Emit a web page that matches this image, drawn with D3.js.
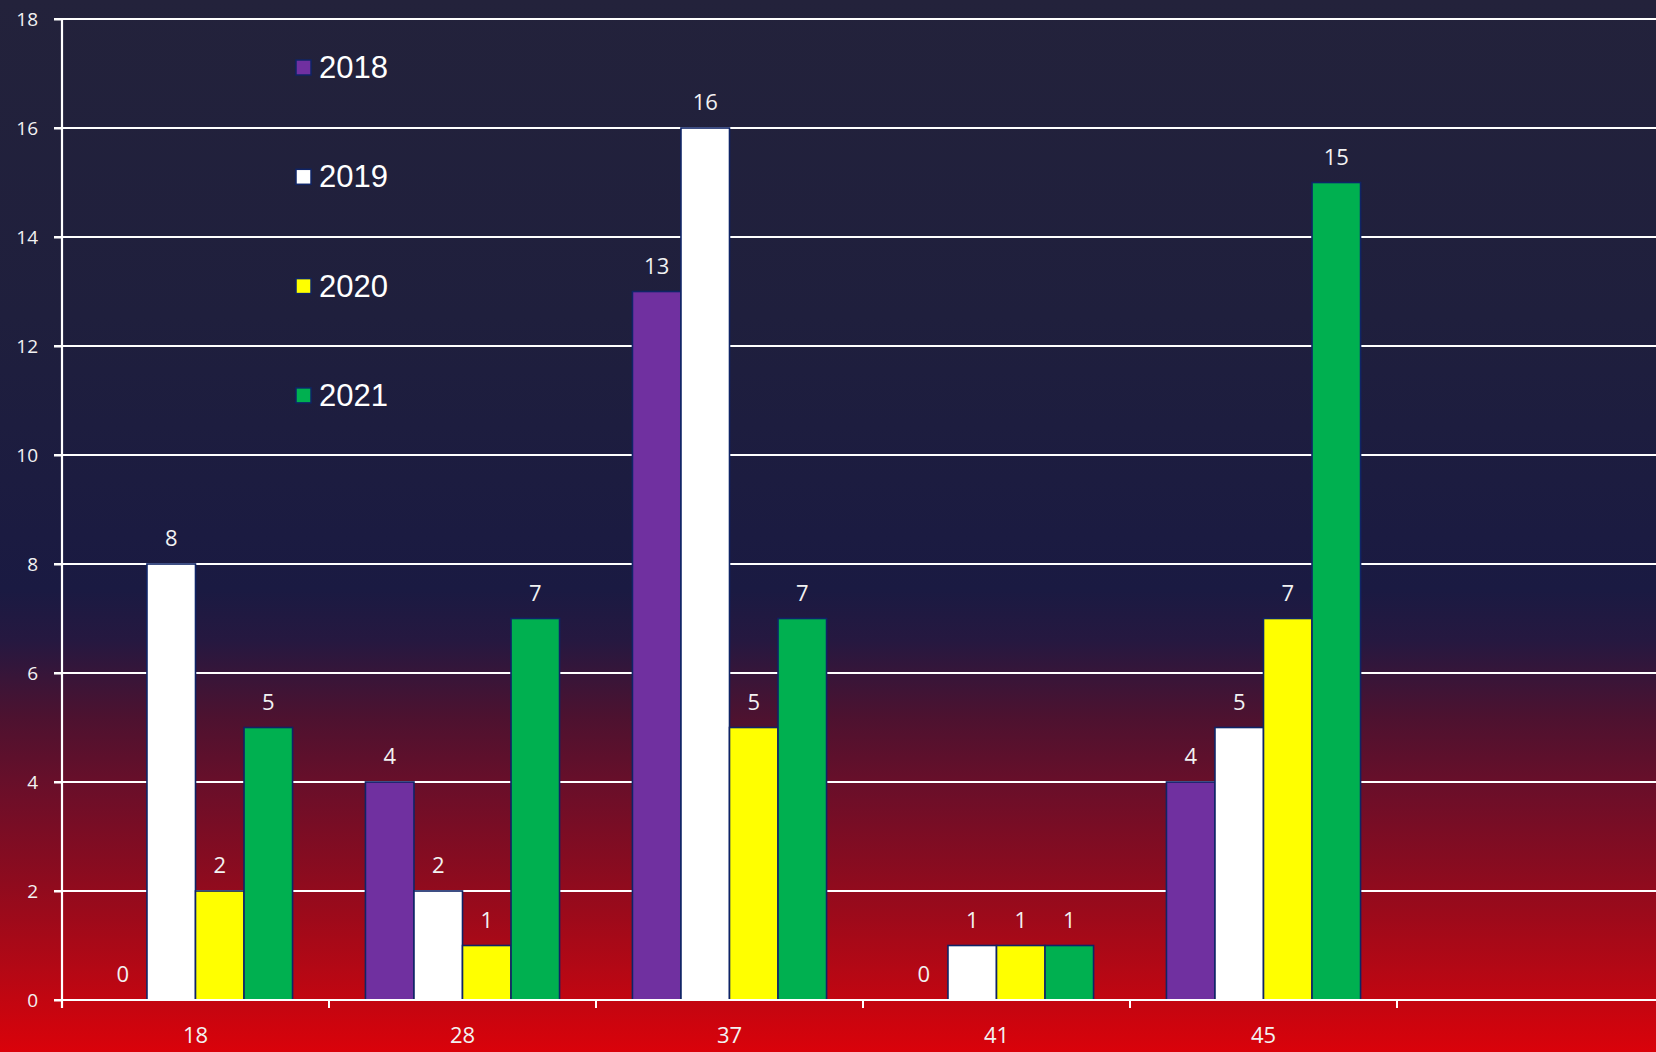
<!DOCTYPE html>
<html>
<head>
<meta charset="utf-8">
<script src="https://cdn.jsdelivr.net/npm/d3@7"></script>
<style>
  html, body { margin:0; padding:0; background:#1c1b40; }
  svg { display:block; }
</style>
</head>
<body>
<svg id="chart" width="1656" height="1052"></svg>
<script>
var categories = ["18", "28", "37", "41", "45"];
var seriesNames = ["2018", "2019", "2020", "2021"];
var values2018 = [0, 4, 13, 0, 4];
var values2019 = [8, 2, 16, 1, 5];
var values2020 = [2, 1, 5, 1, 7];
var values2021 = [5, 7, 7, 1, 15];
var yTicks = [0, 2, 4, 6, 8, 10, 12, 14, 16, 18];
var seriesColors = ["#7030a0", "#ffffff", "#ffff00", "#00b050"];

var allValues = [values2018, values2019, values2020, values2021];
var W = 1656, H = 1052;
var svg = d3.select("#chart");

// background gradient, navy to red
var defs = svg.append("defs");
var grad = defs.append("linearGradient").attr("id","bg").attr("x1",0).attr("y1",0).attr("x2",0).attr("y2",1);
[[0,"#23223b"],[0.3,"#1f1f3d"],[0.56,"#1a1a42"],[0.61,"#261840"],[0.68,"#4c1230"],[0.76,"#6f0e28"],[0.84,"#8f0b1e"],[0.92,"#b30815"],[1,"#da020a"]]
  .forEach(function(s) { grad.append("stop").attr("offset",s[0]).attr("stop-color",s[1]); });
svg.append("rect").attr("width",W).attr("height",H).attr("fill","url(#bg)");

var y = d3.scaleLinear().domain([0, 18]).range([1000, 19]);
var x0 = d3.scaleBand().domain(categories).range([62, 1397]).paddingInner(0.273).paddingOuter(0.1365);
var x1 = d3.scaleBand().domain(seriesNames).range([0, x0.bandwidth()]);

// gridlines
svg.append("g").selectAll("line")
  .data(yTicks.filter(function(d) { return d > 0; }))
  .enter().append("line")
  .attr("x1", 54).attr("x2", W)
  .attr("y1", function(d) { return y(d); }).attr("y2", function(d) { return y(d); })
  .attr("stroke", "#ffffff").attr("stroke-width", 2.2);

// y axis
var yAxis = svg.append("g").attr("transform","translate(62,0)")
  .call(d3.axisLeft(y).tickValues(yTicks).tickSize(8).tickPadding(16));
yAxis.select(".domain").remove();
yAxis.selectAll("line").attr("stroke","#ffffff").attr("stroke-width",2);
yAxis.selectAll("text").attr("fill","#f2f2f2").attr("font-family","'Open Sans', sans-serif").attr("font-size",19);
svg.append("line").attr("x1",62).attr("x2",62).attr("y1",19).attr("y2",1008)
  .attr("stroke","#ffffff").attr("stroke-width",2.2);

// bars
var rows = [];
categories.forEach(function(c, i) {
  seriesNames.forEach(function(s, j) {
    rows.push({cat: c, series: s, value: allValues[j][i], color: seriesColors[j]});
  });
});

var groups = svg.append("g");
groups.selectAll("rect")
  .data(rows.filter(function(d) { return d.value > 0; }))
  .enter().append("rect")
  .attr("x", function(d) { return x0(d.cat) + x1(d.series); })
  .attr("y", function(d) { return y(d.value); })
  .attr("width", x1.bandwidth())
  .attr("height", function(d) { return y(0) - y(d.value); })
  .attr("fill", function(d) { return d.color; })
  .attr("stroke", "#0f2466").attr("stroke-width", 1.6);

// value labels
groups.selectAll("text")
  .data(rows)
  .enter().append("text")
  .attr("x", function(d) { return x0(d.cat) + x1(d.series) + x1.bandwidth()/2; })
  .attr("y", function(d) { return y(d.value) - 18; })
  .attr("text-anchor", "middle")
  .attr("fill", "#f2f2f2")
  .attr("font-family", "'Open Sans', sans-serif")
  .attr("font-size", 22)
  .text(function(d) { return d.value; });

// x axis
svg.append("line").attr("x1",54).attr("x2",W).attr("y1",1000).attr("y2",1000)
  .attr("stroke","#ffffff").attr("stroke-width",2.2);
var bounds = categories.map(function(c) { return x0(c) - x0.step()*x0.paddingInner()/2; });
bounds.push(x0(categories[categories.length-1]) + x0.bandwidth() + x0.step()*x0.paddingInner()/2);
svg.append("g").selectAll("line").data(bounds).enter().append("line")
  .attr("x1", function(d) { return d; }).attr("x2", function(d) { return d; })
  .attr("y1", 1000).attr("y2", 1008)
  .attr("stroke","#ffffff").attr("stroke-width",2);
svg.append("g").selectAll("text").data(categories).enter().append("text")
  .attr("x", function(d) { return x0(d) + x0.bandwidth()/2; })
  .attr("y", 1043)
  .attr("text-anchor","middle")
  .attr("fill","#f2f2f2")
  .attr("font-family","'Open Sans', sans-serif")
  .attr("font-size",22)
  .text(function(d) { return d; });

// legend
var legend = svg.append("g").selectAll("g").data(seriesNames).enter().append("g")
  .attr("transform", function(d, i) { return "translate(296," + (60 + i*109.3) + ")"; });
legend.append("rect").attr("width",15).attr("height",15)
  .attr("fill", function(d, i) { return seriesColors[i]; })
  .attr("stroke","#0f2466").attr("stroke-width",1.5);
legend.append("text").attr("x",23).attr("y",18)
  .attr("fill","#ffffff")
  .attr("font-family","'Liberation Sans', Arial, sans-serif")
  .attr("font-size",31)
  .text(function(d) { return d; });
</script>
</body>
</html>
